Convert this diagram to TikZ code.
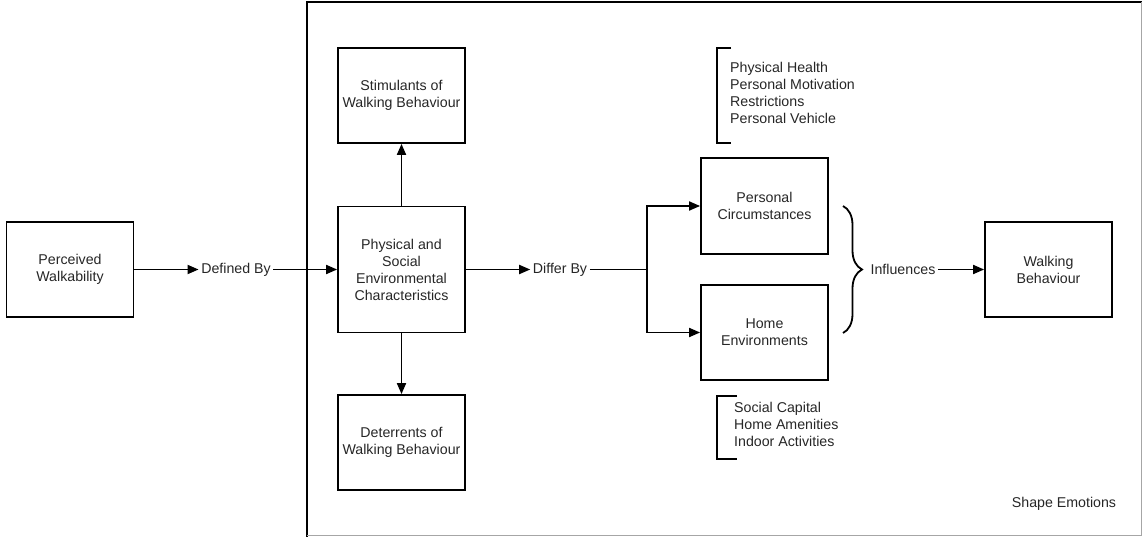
\documentclass[tikz,border=0pt]{standalone}
\usepackage{fontspec}
\setmainfont{Liberation Sans}
\usetikzlibrary{arrows.meta,decorations.pathreplacing}
\begin{document}
\begin{tikzpicture}[x=1pt,y=-1pt,
  every node/.style={font=\fontsize{14.2}{17}\selectfont, text=black!85},
  box/.style={draw, line width=1.8pt, minimum width=127pt, minimum height=95pt, align=center, inner sep=0pt},
  lbl/.style={inner sep=2.5pt},
  conn/.style={line width=1.8pt},
  arr/.style={conn, -{Triangle[length=11pt,width=9pt]}},
  list/.style={align=left, anchor=north west, inner sep=0pt, font=\fontsize{14.2}{17}\selectfont}
]
\useasboundingbox (0,0) rectangle (1143,537);
% frame
\draw[line width=1.8pt] (307,537) -- (307,2) -- (1141.5,2);
\draw[line width=1.2pt, black!35] (1141.5,2) -- (1141.5,535.5) -- (307,535.5);

\node[box] (pw) at (70,269.5) {Perceived\\Walkability};
\node[box, minimum height=126pt] (pse) at (401.5,269.5) {Physical and\\Social\\Environmental\\Characteristics};
\node[box] (stim) at (401.5,95.5) {Stimulants of\\Walking Behaviour};
\node[box] (det) at (401.5,442.5) {Deterrents of\\Walking Behaviour};
\node[box, minimum height=96pt] (pc) at (764.5,206) {Personal\\Circumstances};
\node[box] (he) at (764.5,332.5) {Home\\Environments};
\node[box] (wb) at (1048.5,269.5) {Walking\\Behaviour};

\node[lbl] (def) at (236,269.5) {Defined By};
\node[lbl] (dif) at (560,269.5) {Differ By};
\node[lbl] (inf) at (903,269.5) {Influences};
\coordinate (j) at (647,269.5);
\coordinate (bt) at (843,206);
\coordinate (bb) at (843,333);

\draw[arr] (pw.east) -- (def.west);
\draw[arr] (def.east) -- (pse.west);
\draw[arr] (pse.north) -- (stim.south);
\draw[arr] (pse.south) -- (det.north);
\draw[arr] (pse.east) -- (dif.west);
\draw[conn] (dif.east) -- (j);
\draw[arr] (j) |- (pc.west);
\draw[arr] (j) |- (he.west);
\draw[conn, decorate, decoration={brace, amplitude=19pt, aspect=0.5}] (bt) -- (bb);
\draw[arr] (inf.east) -- (wb.west);

% bracketed lists
\draw[conn] (731,48) -- (717,48) -- (717,143) -- (731,143);
\node[list] (l1) at (730,62.5) {Physical Health\\Personal Motivation\\Restrictions\\Personal Vehicle};
\draw[conn] (737,396) -- (717,396) -- (717,459) -- (737,459);
\node[list] (l2) at (734,402.5) {Social Capital\\Home Amenities\\Indoor Activities};

\node[inner sep=0pt] (se) at (1064,504) {Shape Emotions};
\end{tikzpicture}
\end{document}
